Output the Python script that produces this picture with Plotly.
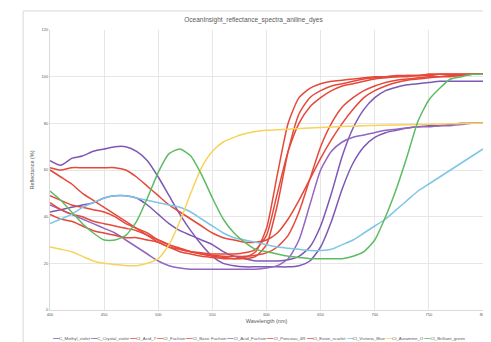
import plotly.graph_objects as go

wavelength = list(range(400, 801, 10))

series_names = ["C_Methyl_violet", "C_Crystal_violet", "CI_Acid_7", "CI_Fuchsin",
                "CI_Basic Fuchsin", "CI_Acid_Fuchsin", "CI_Ponceau_4R", "CI_Eosin_scarlet",
                "CI_Victoria_Blue", "CI_Auramine_O", "CI_Brilliant_green"]

methyl_violet = [64, 62, 65, 66, 68, 69, 70, 70, 68, 64, 57, 49, 41, 34, 28, 23, 20, 19, 18.5, 18.5,
                 18.5, 18.5, 18.5, 19, 21, 27, 38, 52, 63, 70, 74, 76, 77, 78, 78.5, 79, 79, 79.5, 80, 80, 80]
crystal_violet = [42, 43, 44, 45, 46, 48, 49, 49, 48, 45, 41, 37, 34, 32, 30, 28, 25, 23, 22, 21,
                  21, 21, 21.5, 23, 27, 36, 50, 66, 78, 86, 91, 94, 95.5, 96.5, 97, 97.5, 98, 98, 98, 98, 98]
acid_7 = [61, 60, 61, 61, 61, 61, 61, 60, 57, 53, 49, 45, 42, 39, 36, 33, 31, 30, 29, 29,
          30, 33, 39, 47, 56, 65, 73, 80, 86, 91, 94, 96, 97.5, 98.5, 99, 99.5, 100, 100, 100.5, 101, 101]
fuchsin = [60, 57, 54, 50, 47, 44, 41, 38, 35, 32, 29, 27, 25, 24, 23, 22.5, 22, 22, 22.5, 25,
           35, 58, 80, 91, 95, 97, 98, 98.5, 99, 99.5, 100, 100, 100.5, 100.5, 100.5, 101, 101, 101, 101, 101, 101]
basic_fuchsin = [49, 47, 45, 44, 43, 42, 40, 37, 35, 33, 30, 28, 26, 25, 24, 23, 22.5, 22, 22, 23,
                 28, 45, 68, 84, 91, 94, 96, 97, 98, 99, 99.5, 100, 100, 100.5, 100.5, 101, 101, 101, 101, 101, 101]
acid_fuchsin = [45, 43, 41, 39, 37, 35, 33, 30, 27, 24, 21, 19, 18, 17.5, 17.5, 17.5, 17.5, 17.5, 17.5, 17.5,
                18, 19, 22, 30, 45, 60, 68, 72, 74, 75, 76, 77, 77.5, 78, 78.5, 78.5, 79, 79, 79.5, 80, 80]
ponceau_4r = [41, 39, 38, 36, 34, 33, 32, 31, 31, 30, 29, 27, 26, 25, 24.5, 24, 24, 24, 24.5, 26,
              32, 50, 68, 80, 87, 91, 94, 96, 97, 98, 99, 99.5, 100, 100, 100.5, 100.5, 101, 101, 101, 101, 101]
eosin_scarlet = [46, 43, 41, 40, 38, 37, 36, 35, 34, 32, 30, 28, 26.5, 25, 24, 23.5, 23, 23, 23, 23.5,
                 24.5, 27, 32, 42, 56, 70, 80, 87, 91, 94, 96, 97.5, 98.5, 99, 99.5, 100, 100, 100.5, 100.5, 101, 101]
victoria_blue = [37, 39, 41, 44, 46, 48, 49, 49, 48, 47, 46, 45, 44, 42, 39, 36, 33, 31, 30, 29,
                 28, 27, 26.5, 26, 25.5, 25.5, 26, 28, 30, 33, 36, 39, 43, 47, 51, 54, 57, 60, 63, 66, 69]
auramine_o = [27, 26, 25, 23, 21, 20, 19.5, 19, 19, 20, 22, 28, 38, 50, 61, 68, 72, 74, 75.5, 76.5,
              77, 77.3, 77.5, 77.8, 78, 78.2, 78.4, 78.6, 78.8, 79, 79.1, 79.2, 79.3, 79.4, 79.5, 79.6, 79.7, 79.8, 79.9, 80, 80]
brilliant_green = [51, 47, 42, 37, 33, 30, 30, 32, 38, 48, 59, 67, 69, 66, 58, 48, 39, 33, 29, 26,
                   25, 24, 23, 22.5, 22, 22, 22, 22, 23, 25, 30, 40, 52, 66, 81, 90, 95, 99, 100, 101, 101]

series_values = [methyl_violet, crystal_violet, acid_7, fuchsin, basic_fuchsin, acid_fuchsin,
                 ponceau_4r, eosin_scarlet, victoria_blue, auramine_o, brilliant_green]

PURPLE = "#7E57B5"
LPURPLE = "#9466C0"
RED = "#E5493A"
BLUE = "#7EC6E6"
YELLOW = "#F7D358"
GREEN = "#5DBB63"
colors = [PURPLE, PURPLE, RED, RED, RED, LPURPLE, RED, RED, BLUE, YELLOW, GREEN]

x_ticks = list(range(400, 801, 50))
y_ticks = list(range(0, 121, 20))

fig = go.Figure()
for name, vals, col in zip(series_names, series_values, colors):
    fig.add_trace(go.Scatter(x=wavelength, y=vals, name=name, mode="lines",
                             line=dict(color=col, width=1.5, shape="spline", smoothing=0.6),
                             showlegend=False))

# legend as one text line with coloured line glyphs
parts = []
for name, col in zip(series_names, colors):
    parts.append(f"<span style='color:{col}'>━━━</span>{name}")
legend_text = " ".join(parts)

fig.add_annotation(text=legend_text, xref="paper", yref="paper", x=0.483, y=-0.085,
                   xanchor="center", yanchor="top", showarrow=False,
                   font=dict(size=4.35, color="#595959", family="Liberation Sans"))

fig.add_shape(type="rect", xref="paper", yref="paper", x0=-0.062, x1=1.016, y0=-0.128, y1=1.068,
              line=dict(color="#D9D9D9", width=1), fillcolor="rgba(0,0,0,0)", layer="below")

fig.update_layout(
    width=491, height=342,
    margin=dict(l=42, r=16, t=22, b=40),
    paper_bgcolor="white", plot_bgcolor="white",
    title=dict(text="OceanInsight_reflectance_spectra_aniline_dyes", x=0.5, xanchor="center",
               y=0.965, yanchor="middle",
               font=dict(size=6.5, color="#595959", family="Liberation Sans")),
    font=dict(family="Liberation Sans", color="#595959"),
    xaxis=dict(range=[400, 800], tickvals=x_ticks, showgrid=True, gridcolor="#E6E6E6", gridwidth=1,
               zeroline=False, showline=True, linecolor="#D9D9D9", ticks="",
               tickfont=dict(size=4, color="#595959"),
               title=dict(text="Wavelength (nm)", font=dict(size=5.5, color="#595959"), standoff=3)),
    yaxis=dict(range=[0, 120], tickvals=y_ticks, showgrid=True, gridcolor="#E6E6E6", gridwidth=1,
               zeroline=False, showline=True, linecolor="#D9D9D9", ticks="",
               tickfont=dict(size=4, color="#595959"),
               title=dict(text="Reflectance (%)", font=dict(size=5.5, color="#595959"), standoff=6)),
)

fig.write_html("out.html")
